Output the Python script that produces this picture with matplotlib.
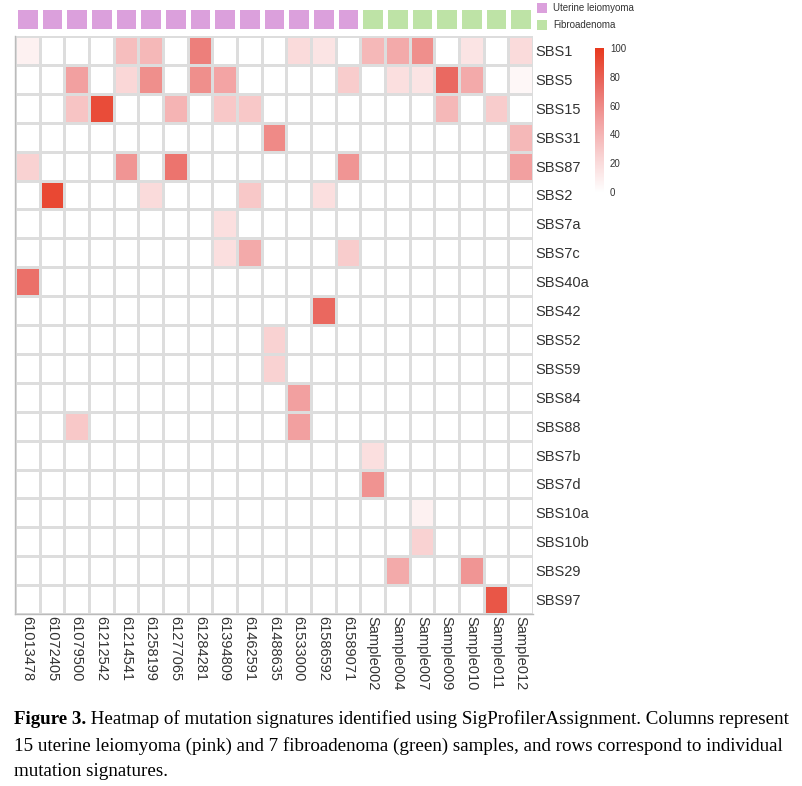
import matplotlib
matplotlib.use("Agg")
import matplotlib.pyplot as plt
import numpy as np
from matplotlib.colors import LinearSegmentedColormap, ListedColormap
from matplotlib.patches import Rectangle

plt.rcParams["font.family"] = ["Liberation Sans", "DejaVu Sans"]

samples = ["61013478", "61072405", "61079500", "61212542", "61214541", "61258199",
           "61277065", "61284281", "61394809", "61462591", "61488635", "61533000",
           "61586592", "61589071", "Sample002", "Sample004", "Sample007", "Sample009",
           "Sample010", "Sample011", "Sample012"]
groups = ["Uterine leiomyoma"] * 14 + ["Fibroadenoma"] * 7
group_names = ["Uterine leiomyoma", "Fibroadenoma"]
group_colors = ["#DBA0DC", "#BEE3A6"]

signatures = ["SBS1", "SBS5", "SBS15", "SBS31", "SBS87", "SBS2", "SBS7a", "SBS7c",
              "SBS40a", "SBS42", "SBS52", "SBS59", "SBS84", "SBS88", "SBS7b", "SBS7d",
              "SBS10a", "SBS10b", "SBS29", "SBS97"]

values = [
    [8, 0, 0, 0, 35, 38, 0, 65, 0, 0, 0, 20, 15, 0, 38, 45, 58, 0, 15, 0, 20],   # SBS1
    [0, 0, 50, 0, 22, 58, 0, 58, 48, 0, 0, 0, 0, 28, 0, 18, 15, 75, 45, 0, 5],   # SBS5
    [0, 0, 32, 90, 0, 0, 40, 0, 30, 30, 0, 0, 0, 0, 0, 0, 0, 38, 0, 28, 0],     # SBS15
    [0, 0, 0, 0, 0, 0, 0, 0, 0, 0, 60, 0, 0, 0, 0, 0, 0, 0, 0, 0, 38],          # SBS31
    [25, 0, 0, 0, 55, 0, 70, 0, 0, 0, 0, 0, 0, 55, 0, 0, 0, 0, 0, 0, 50],       # SBS87
    [0, 92, 0, 0, 0, 20, 0, 0, 0, 30, 0, 0, 18, 0, 0, 0, 0, 0, 0, 0, 0],        # SBS2
    [0, 0, 0, 0, 0, 0, 0, 0, 18, 0, 0, 0, 0, 0, 0, 0, 0, 0, 0, 0, 0],           # SBS7a
    [0, 0, 0, 0, 0, 0, 0, 0, 18, 45, 0, 0, 0, 28, 0, 0, 0, 0, 0, 0, 0],         # SBS7c
    [72, 0, 0, 0, 0, 0, 0, 0, 0, 0, 0, 0, 0, 0, 0, 0, 0, 0, 0, 0, 0],           # SBS40a
    [0, 0, 0, 0, 0, 0, 0, 0, 0, 0, 0, 0, 76, 0, 0, 0, 0, 0, 0, 0, 0],           # SBS42
    [0, 0, 0, 0, 0, 0, 0, 0, 0, 0, 25, 0, 0, 0, 0, 0, 0, 0, 0, 0, 0],           # SBS52
    [0, 0, 0, 0, 0, 0, 0, 0, 0, 0, 25, 0, 0, 0, 0, 0, 0, 0, 0, 0, 0],           # SBS59
    [0, 0, 0, 0, 0, 0, 0, 0, 0, 0, 0, 50, 0, 0, 0, 0, 0, 0, 0, 0, 0],           # SBS84
    [0, 0, 30, 0, 0, 0, 0, 0, 0, 0, 0, 50, 0, 0, 0, 0, 0, 0, 0, 0, 0],          # SBS88
    [0, 0, 0, 0, 0, 0, 0, 0, 0, 0, 0, 0, 0, 0, 18, 0, 0, 0, 0, 0, 0],           # SBS7b
    [0, 0, 0, 0, 0, 0, 0, 0, 0, 0, 0, 0, 0, 0, 56, 0, 0, 0, 0, 0, 0],           # SBS7d
    [0, 0, 0, 0, 0, 0, 0, 0, 0, 0, 0, 0, 0, 0, 0, 0, 8, 0, 0, 0, 0],            # SBS10a
    [0, 0, 0, 0, 0, 0, 0, 0, 0, 0, 0, 0, 0, 0, 0, 0, 25, 0, 0, 0, 0],           # SBS10b
    [0, 0, 0, 0, 0, 0, 0, 0, 0, 0, 0, 0, 0, 0, 0, 45, 0, 0, 55, 0, 0],          # SBS29
    [0, 0, 0, 0, 0, 0, 0, 0, 0, 0, 0, 0, 0, 0, 0, 0, 0, 0, 0, 85, 0],           # SBS97
]
cbar_ticks = [0, 20, 40, 60, 80, 100]

caption_bold = "Figure 3."
caption_lines = [
    " Heatmap of mutation signatures identified using SigProfilerAssignment. Columns represent",
    "15 uterine leiomyoma (pink) and 7 fibroadenoma (green) samples, and rows correspond to individual",
    "mutation signatures.",
]

W, H = 802, 786
fig = plt.figure(figsize=(W / 100, H / 100), dpi=100)

def ax_px(x0, y0, x1, y1):
    return fig.add_axes([x0 / W, 1 - y1 / H, (x1 - x0) / W, (y1 - y0) / H])

cmap = LinearSegmentedColormap.from_list(
    "wr", [(0.0, "#FFFFFF"), (0.25, "#F9D2D2"), (0.5, "#F2A0A0"),
           (0.75, "#EA6A62"), (1.0, "#E8391E")])

data = np.array(values, dtype=float)
nr, nc = data.shape

# Main heatmap
ax = ax_px(15, 36, 533, 614)
ax.pcolormesh(np.arange(nc + 1), np.arange(nr + 1), data, cmap=cmap, vmin=0, vmax=100,
              edgecolors="#DDDDDD", linewidth=0.9)
ax.set_xlim(0, nc)
ax.set_ylim(nr, 0)
ax.set_yticks(np.arange(nr) + 0.5)
ax.set_yticklabels(signatures, fontsize=10.5, color="#333333")
ax.yaxis.tick_right()
ax.set_xticks(np.arange(nc) + 0.5)
ax.set_xticklabels(samples, rotation=-90, fontsize=10.5, color="#333333", va="top")
ax.tick_params(length=0, pad=1.5)
for s in ["top", "right"]:
    ax.spines[s].set_visible(False)
for s in ["left", "bottom"]:
    ax.spines[s].set_color("#BBBBBB")
    ax.spines[s].set_linewidth(1.0)

# Annotation bar
axa = ax_px(15, 7, 533, 31)
gidx = np.array([[group_names.index(g) for g in groups]])
axa.pcolormesh(np.arange(nc + 1), [0, 1], gidx, cmap=ListedColormap(group_colors),
               vmin=0, vmax=1, edgecolors="white", linewidth=2.2)
axa.set_xlim(0, nc)
axa.set_ylim(1, 0)
axa.axis("off")

# Legend
for i, (name, col) in enumerate(zip(group_names, group_colors)):
    y = 3 + i * 17
    fig.patches.append(Rectangle((537 / W, 1 - (y + 10) / H), 10 / W, 10 / H,
                                 transform=fig.transFigure, facecolor=col, edgecolor="none"))
    fig.text(553 / W, 1 - (y + 5) / H, name, fontsize=7, va="center", ha="left", color="#333333")

# Colorbar
axc = ax_px(595, 48, 603, 192)
grad = np.linspace(0, 100, 256).reshape(-1, 1)
axc.imshow(grad, aspect="auto", cmap=cmap, vmin=0, vmax=100, origin="lower",
           extent=[0, 1, 0, 100])
axc.set_xticks([])
axc.yaxis.tick_right()
axc.set_yticks(cbar_ticks)
axc.set_yticklabels([str(t) for t in cbar_ticks], fontsize=7, color="#333333")
axc.tick_params(length=0, pad=5)
for s in axc.spines.values():
    s.set_visible(False)

# Caption
serif = ["Liberation Serif", "DejaVu Serif"]
fs = 13.7
t = fig.text(14 / W, 1 - 719 / H, caption_bold, fontsize=fs, fontweight="bold",
             family=serif, va="center", ha="left")
fig.canvas.draw()
bb = t.get_window_extent()
fig.text(bb.x1 / W, 1 - 719 / H, caption_lines[0], fontsize=fs, family=serif,
         va="center", ha="left")
fig.text(14 / W, 1 - 746 / H, caption_lines[1], fontsize=fs, family=serif,
         va="center", ha="left")
fig.text(14 / W, 1 - 772 / H, caption_lines[2], fontsize=fs, family=serif,
         va="center", ha="left")

fig.savefig("out.png", dpi=100)
